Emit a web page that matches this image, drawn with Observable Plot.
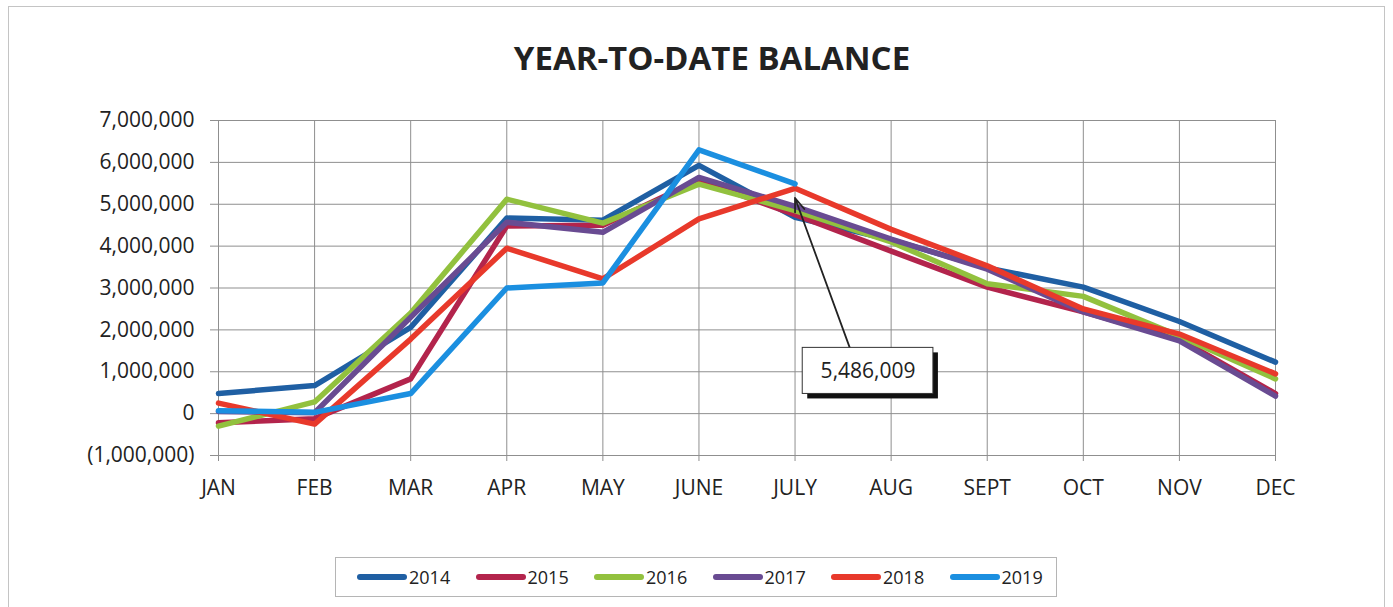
<!DOCTYPE html>
<html>
<head>
<meta charset="utf-8">
<script src="https://cdn.jsdelivr.net/npm/d3@7"></script>
<script src="https://cdn.jsdelivr.net/npm/@observablehq/plot@0.6"></script>
<style>
  html, body { margin: 0; padding: 0; background: #fff; }
  #wrap { position: relative; width: 1393px; height: 607px; overflow: hidden; font-family: "Open Sans", sans-serif; }
  #frame { position: absolute; left: 8px; top: 6px; width: 1377px; height: 640px; border: 1.5px solid #c4c4c4; box-sizing: border-box; }
  #title { position: absolute; left: 462px; width: 500px; top: 36px; height: 44px; line-height: 44px; text-align: center; font-size: 33px; font-weight: 700; color: #222; }
  #chart { position: absolute; left: 0; top: 100px; }
  #legend { position: absolute; left: 335px; top: 557px; width: 722px; height: 40px; border: 1px solid #b5b5b5; box-sizing: border-box; }
  .item { position: absolute; top: 0; height: 38px; display: flex; align-items: center; }
  .swatch { display: inline-block; width: 50px; height: 6px; border-radius: 3px; }
  .lab { margin-left: 2px; font-size: 18px; color: #222; }
</style>
</head>
<body>
<div id="wrap">
  <div id="frame"></div>
  <div id="title">YEAR-TO-DATE BALANCE</div>
  <div id="chart"></div>
  <div id="legend"></div>
</div>
<script>
// ---- data ----
const months = ["JAN","FEB","MAR","APR","MAY","JUNE","JULY","AUG","SEPT","OCT","NOV","DEC"];
const years = ["2014","2015","2016","2017","2018","2019"];
const colors = ["#1f5fa3","#b3244c","#92c13e","#694b92","#e8392b","#1b8fe0"];
const yTicks = [-1000000,0,1000000,2000000,3000000,4000000,5000000,6000000,7000000];

const v2014 = [480000, 670000, 2060000, 4670000, 4620000, 5930000, 4690000, 4150000, 3480000, 3020000, 2200000, 1230000];
const v2015 = [-220000, -120000, 830000, 4480000, 4500000, 5580000, 4750000, 3880000, 3020000, 2430000, 1780000, 480000];
const v2016 = [-300000, 280000, 2400000, 5120000, 4550000, 5480000, 4850000, 4100000, 3100000, 2800000, 1850000, 830000];
const v2017 = [50000, 20000, 2300000, 4570000, 4330000, 5640000, 4950000, 4170000, 3450000, 2430000, 1740000, 420000];
const v2018 = [250000, -250000, 1780000, 3950000, 3220000, 4650000, 5380000, 4400000, 3530000, 2500000, 1900000, 950000];
const v2019 = [70000, 30000, 480000, 3000000, 3120000, 6300000, 5486009];

const series = [v2014, v2015, v2016, v2017, v2018, v2019];
const annotationText = "5,486,009";
// annotation placement (month index / value units)
const ann = {x: 6.76, y: 1020000, hw: 0.68, hh: 550000, ax1: 6.57, ay1: 1570000, ax2: 6.0, ay2: 5150000, label: annotationText};

// ---- tidy table ----
const rows = [];
series.forEach((vals, k) => vals.forEach((v, i) => rows.push({year: years[k], i, v})));

const fmt = d3.format(",");
const yFormat = d => d < 0 ? `(${fmt(-d)})` : fmt(d);

const plot = Plot.plot({
  width: 1393,
  height: 420,
  marginLeft: 218,
  marginRight: 118,
  marginTop: 20,
  marginBottom: 65,
  style: {fontFamily: "'Open Sans', sans-serif", color: "#222", background: "transparent"},
  x: {type: "linear", domain: [0, 11]},
  y: {domain: [-1000000, 7000000]},
  color: {domain: years, range: colors},
  marks: [
    Plot.gridY(yTicks, {stroke: "#8f8f8f", strokeOpacity: 1, strokeWidth: 1}),
    Plot.gridX(d3.range(months.length), {stroke: "#8f8f8f", strokeOpacity: 1, strokeWidth: 1}),
    Plot.axisY(yTicks, {tickFormat: yFormat, tickSize: 8, tickPadding: 16, fontSize: 21, stroke: "#8f8f8f", label: null}),
    Plot.axisX(d3.range(months.length), {tickFormat: i => months[i], tickSize: 6, tickPadding: 19, fontSize: 21, stroke: "#8f8f8f", label: null}),
    Plot.line(rows, {x: "i", y: "v", z: "year", stroke: "year", strokeWidth: 5.5, strokeLinejoin: "round", strokeLinecap: "round"}),
    Plot.arrow([ann], {x1: "ax1", y1: "ay1", x2: "ax2", y2: "ay2", stroke: "#222", strokeWidth: 1.8, headLength: 12, headAngle: 40}),
    Plot.rect([ann], {x1: d => d.x - d.hw, x2: d => d.x + d.hw, y1: d => d.y - d.hh, y2: d => d.y + d.hh, fill: "#111", dx: 5, dy: 5}),
    Plot.rect([ann], {x1: d => d.x - d.hw, x2: d => d.x + d.hw, y1: d => d.y - d.hh, y2: d => d.y + d.hh, fill: "#fff", stroke: "#333", strokeWidth: 1}),
    Plot.text([ann], {x: "x", y: "y", text: "label", fontSize: 21, fill: "#222"})
  ]
});
document.getElementById("chart").appendChild(plot);

// ---- legend ----
const legend = document.getElementById("legend");
years.forEach((y, k) => {
  const it = document.createElement("div");
  it.className = "item";
  it.style.left = (21 + k * 118.5) + "px";
  it.innerHTML = `<span class="swatch" style="background:${colors[k]}"></span><span class="lab">${y}</span>`;
  legend.appendChild(it);
});
</script>
</body>
</html>
